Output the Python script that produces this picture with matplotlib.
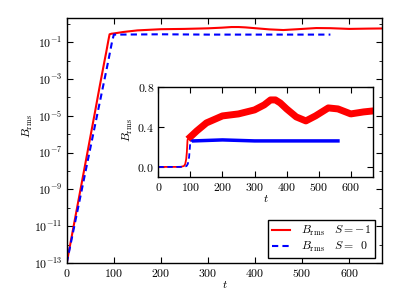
import numpy as np
import matplotlib
matplotlib.use('Agg')
import matplotlib.pyplot as plt
from matplotlib.ticker import FixedLocator, NullFormatter

plt.rcParams['font.family'] = 'serif'
plt.rcParams['font.serif'] = ['cmr10']
plt.rcParams['mathtext.fontset'] = 'cm'
plt.rcParams['axes.formatter.use_mathtext'] = True
plt.rcParams['font.size'] = 8.5

# S = -1 run (red)
t_red = [0, 60, 70, 80, 84, 87, 89, 91, 95, 100, 120, 150, 200, 250, 300,
         330, 350, 365, 380, 400, 430, 460, 490, 530, 560, 600, 640, 670]
b_red = [1e-13, 1.6e-5, 4e-4, 9e-3, 0.03, 0.08, 0.15, 0.27, 0.29, 0.30, 0.36,
         0.44, 0.51, 0.53, 0.57, 0.62, 0.67, 0.67, 0.64, 0.58, 0.50, 0.46,
         0.51, 0.59, 0.58, 0.53, 0.55, 0.56]

# S = 0 run (blue)
t_blue = [0, 60, 80, 88, 92, 96, 100, 110, 200, 300, 400, 500, 560]
b_blue = [1e-13, 3e-6, 9e-4, 9e-3, 0.03, 0.1, 0.26, 0.26, 0.27, 0.26, 0.26,
          0.26, 0.26]

labels = [r'$B_{\rm rms}\quad S=-1\,$', r'$B_{\rm rms}\quad S=\ \,0\,$']

fig = plt.figure(figsize=(4.07, 3.05), dpi=100)
ax = fig.add_axes([0.164, 0.138, 0.775, 0.802])

ax.plot(t_red, b_red, color='red', lw=1.5, label=labels[0])
ax.plot(t_blue, b_blue, color='blue', lw=1.5, dashes=(3, 2), label=labels[1])
ax.set_yscale('log')
ax.set_xlim(0, 670)
ax.set_ylim(1e-13, 2)
ax.yaxis.set_major_locator(FixedLocator([10.0**k for k in range(-13, 0, 2)]))
ax.yaxis.set_minor_locator(FixedLocator([10.0**k for k in range(-12, 1, 2)]))
ax.yaxis.set_minor_formatter(NullFormatter())
ax.set_xticks([0, 100, 200, 300, 400, 500, 600])
ax.tick_params(which='both', direction='in', top=True, right=True, pad=3)
ax.tick_params(which='major', length=4)
ax.tick_params(which='minor', length=2)
ax.set_xlabel(r'$t$', labelpad=0)
ax.set_ylabel(r'$B_{\rm rms}$')
ax.yaxis.set_label_coords(-0.10, 0.56)
leg = ax.legend(loc='lower right', bbox_to_anchor=(375 / 407, 47 / 305),
                bbox_transform=fig.transFigure, borderaxespad=0,
                fancybox=False, edgecolor='black', handlelength=1.5,
                framealpha=1, borderpad=0.35, labelspacing=0.12,
                handletextpad=0.9)
leg.get_frame().set_linewidth(1.0)

# inset, linear scale
ins = fig.add_axes([0.389, 0.42, 0.528, 0.295])
i0 = t_red.index(100)
j0 = t_blue.index(110)
ins.plot(t_red, b_red, color='red', lw=1.3)
ins.plot(t_red[i0:], b_red[i0:], color='red', lw=5, solid_joinstyle='round')
ins.plot(t_blue, b_blue, color='blue', lw=1.3, dashes=(3, 2))
ins.plot(t_blue[j0:], b_blue[j0:], color='blue', lw=2.5)
ins.set_xlim(0, 670)
ins.set_ylim(-0.1, 0.8)
ins.set_xticks([0, 100, 200, 300, 400, 500, 600])
ins.set_yticks([0.0, 0.4, 0.8])
ins.yaxis.set_major_formatter(plt.FuncFormatter(lambda v, p: '$%.1f$' % v))
ins.tick_params(direction='in', top=True, right=True, length=4, pad=3)
ins.set_xlabel(r'$t$', labelpad=0)
ins.set_ylabel(r'$B_{\rm rms}$')
ins.yaxis.set_label_coords(-0.11, 0.52)

for a in (ax, ins):
    for s in a.spines.values():
        s.set_linewidth(1.0)

fig.savefig('out.png', dpi=100)
